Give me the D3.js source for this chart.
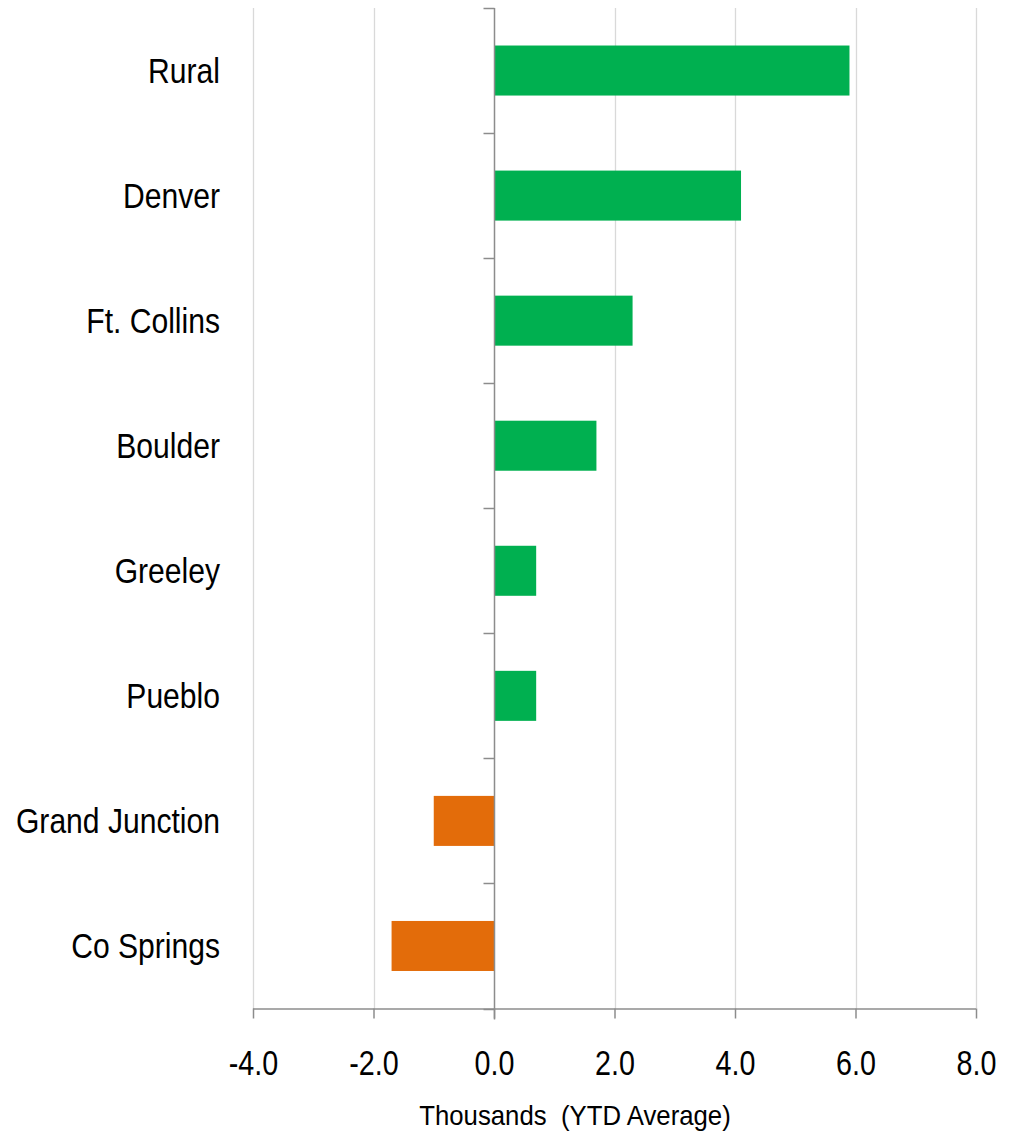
<!DOCTYPE html>
<html>
<head>
<meta charset="utf-8">
<script src="https://cdn.jsdelivr.net/npm/d3@7"></script>
<style>
  html, body { margin: 0; padding: 0; background: #fff; }
  svg text { font-family: "Liberation Sans", Arial, sans-serif; fill: #000; }
</style>
</head>
<body>
<svg id="chart" width="1014" height="1135"></svg>
<script>
// Regions, top to bottom, with their YTD average change (thousands)
const regions = ["Rural", "Denver", "Ft. Collins", "Boulder", "Greeley", "Pueblo", "Grand Junction", "Co Springs"];
const values = [5.9, 4.1, 2.3, 1.7, 0.7, 0.7, -1.0, -1.7];
const xTicks = [-4, -2, 0, 2, 4, 6, 8];
const axisTitle = "Thousands\u00a0\u00a0(YTD Average)";

const svg = d3.select("#chart");
const plotLeft = 253, plotRight = 976, plotTop = 8, plotBottom = 1008.5;

// narrow typeface look: horizontally condensed text
const LABEL_SQUEEZE = 0.86, TICK_SQUEEZE = 0.82, TITLE_SQUEEZE = 0.92;

const x = d3.scaleLinear().domain([-4, 8]).range([plotLeft, plotRight]);
const y = d3.scaleBand().domain(regions).range([plotTop, plotBottom]).paddingInner(0.6).paddingOuter(0.3);

// vertical gridlines
svg.append("g").selectAll("line")
  .data(xTicks.filter(d => d !== 0))
  .join("line")
  .attr("x1", d => Math.round(x(d)) + 0.5).attr("x2", d => Math.round(x(d)) + 0.5)
  .attr("y1", plotTop).attr("y2", plotBottom)
  .attr("stroke", "#d9d9d9").attr("stroke-width", 1.3);

// bars
svg.append("g").selectAll("rect")
  .data(regions.map((r, i) => ({ r, v: values[i] })))
  .join("rect")
  .attr("x", d => x(Math.min(0, d.v)))
  .attr("width", d => Math.abs(x(d.v) - x(0)))
  .attr("y", d => y(d.r))
  .attr("height", y.bandwidth())
  .attr("fill", d => d.v >= 0 ? "#00b050" : "#e36c0a");

// bottom axis
const xAxis = d3.axisBottom(x).tickValues(xTicks).tickSize(10).tickFormat(d3.format(".1f"));
const gx = svg.append("g").attr("transform", `translate(0,${plotBottom})`).call(xAxis);
gx.select(".domain").attr("stroke", "#8c8c8c").attr("stroke-width", 1.5).attr("d", `M${plotLeft},0.5H${plotRight}`);
gx.selectAll(".tick line").attr("stroke", "#8c8c8c").attr("stroke-width", 1.5);
gx.selectAll(".tick text")
  .attr("y", 0).attr("dy", 0)
  .attr("transform", `translate(0,66) scale(${TICK_SQUEEZE},1)`)
  .attr("fill", "#000")
  .style("font-size", "35px")
  .text(d => d3.format(".1f")(d).replace("\u2212", "-"));

// vertical zero axis with category boundary ticks
const zx = Math.round(x(0)) + 0.5;
svg.append("line")
  .attr("x1", zx).attr("x2", zx).attr("y1", plotTop).attr("y2", plotBottom + 11)
  .attr("stroke", "#8c8c8c").attr("stroke-width", 1.5);
const bounds = regions.map(r => y(r) - y.step() * y.paddingInner() / 2);
bounds.push(plotBottom);
svg.append("g").selectAll("line")
  .data(bounds)
  .join("line")
  .attr("x1", zx - 11).attr("x2", zx)
  .attr("y1", d => Math.round(d) + 0.5).attr("y2", d => Math.round(d) + 0.5)
  .attr("stroke", "#8c8c8c").attr("stroke-width", 1.5);

// category labels
svg.append("g").selectAll("text")
  .data(regions)
  .join("text")
  .attr("transform", d => `translate(220,${y(d) + y.bandwidth() / 2}) scale(${LABEL_SQUEEZE},1)`)
  .attr("dy", "0.35em")
  .attr("text-anchor", "end")
  .style("font-size", "35px")
  .text(d => d);

// axis title
svg.append("text")
  .attr("transform", `translate(575,1125) scale(${TITLE_SQUEEZE},1)`)
  .attr("text-anchor", "middle")
  .style("font-size", "28px")
  .text(axisTitle);
</script>
</body>
</html>
